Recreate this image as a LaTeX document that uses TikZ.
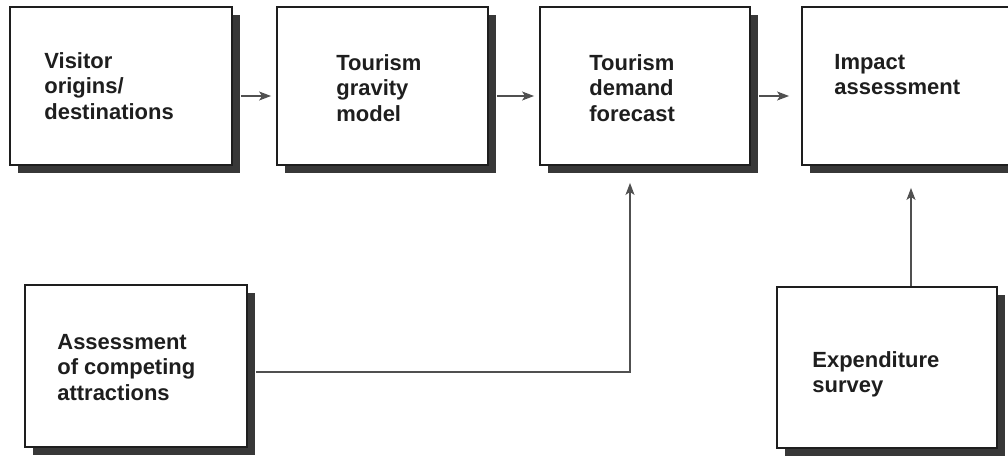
\documentclass[tikz,border=0pt]{standalone}
\usepackage{fontspec}
\setmainfont{Liberation Sans}
\usetikzlibrary{positioning,shadows,arrows.meta}
\definecolor{inkdark}{HTML}{1E1E1E}
\definecolor{shadowgray}{HTML}{383838}
\definecolor{linegray}{HTML}{505050}

\begin{document}
\begin{tikzpicture}[x=0.02cm, y=-0.02cm,
      box/.style={draw=inkdark, line width=1.1pt, fill=white, minimum height=3.16cm,
                  drop shadow={shadow xshift=0.16cm, shadow yshift=-0.16cm,
                               fill=shadowgray, opacity=1}},
      txt/.style={inner sep=0pt, align=left, text=inkdark,
                  font=\fontsize{12.5}{14.5}\selectfont\bfseries},
      arr/.style={-{Stealth[length=0.24cm, width=0.18cm, inset=0.06cm]}, draw=linegray,
                  line width=0.65pt}
    ]
      \clip (0,0) rectangle (1008,457);
      \fill[white] (0,0) rectangle (1008,457);

      % Top row
      \node[box, minimum width=4.44cm] (origins) at (121,86) {};
      \node[box, minimum width=4.22cm] (gravity) at (382.5,86) {};
      \node[box, minimum width=4.2cm] (forecast) at (645,86) {};
      \node[box, minimum width=4.3cm] (impact) at (909.5,86) {};
      % Bottom row
      \node[box, minimum width=4.44cm, minimum height=3.24cm] (attractions) at (136,366) {};
      \node[box, minimum width=4.4cm, minimum height=3.22cm] (survey) at (887,367.5) {};

      % Labels
      \node[txt, below right=0.92cm and 0.7cm of origins.north west] (origins-txt)
        {Visitor\\origins/\\destinations};
      \node[txt, below right=0.96cm and 1.2cm of gravity.north west] (gravity-txt)
        {Tourism\\gravity\\model};
      \node[txt, below right=0.96cm and 1cm of forecast.north west] (forecast-txt)
        {Tourism\\demand\\forecast};
      \node[txt, below right=0.96cm and 0.66cm of impact.north west] (impact-txt)
        {Impact\\assessment};
      \node[txt, below right=1cm and 0.66cm of attractions.north west] (attractions-txt)
        {Assessment\\of competing\\attractions};
      \node[txt, below right=1.3cm and 0.72cm of survey.north west] (survey-txt)
        {Expenditure\\survey};

      \draw[arr, shorten >=0.1cm] ([xshift=0.16cm, yshift=-0.2cm]origins.east)
        -- ([yshift=-0.2cm]gravity.west);
      \draw[arr, shorten >=0.1cm] ([xshift=0.16cm, yshift=-0.2cm]gravity.east)
        -- ([yshift=-0.2cm]forecast.west);
      \draw[arr, shorten >=0.24cm] ([xshift=0.16cm, yshift=-0.2cm]forecast.east)
        -- ([yshift=-0.2cm]impact.west);
      \draw[arr, shorten >=0.34cm] ([xshift=0.16cm, yshift=-0.12cm]attractions.east)
        -| ([xshift=-0.3cm]forecast.south);
      \draw[arr, shorten >=0.44cm] ([xshift=0.48cm]survey.north)
        -- ([xshift=0.48cm]survey.north |- impact.south);
    \end{tikzpicture}
\end{document}
